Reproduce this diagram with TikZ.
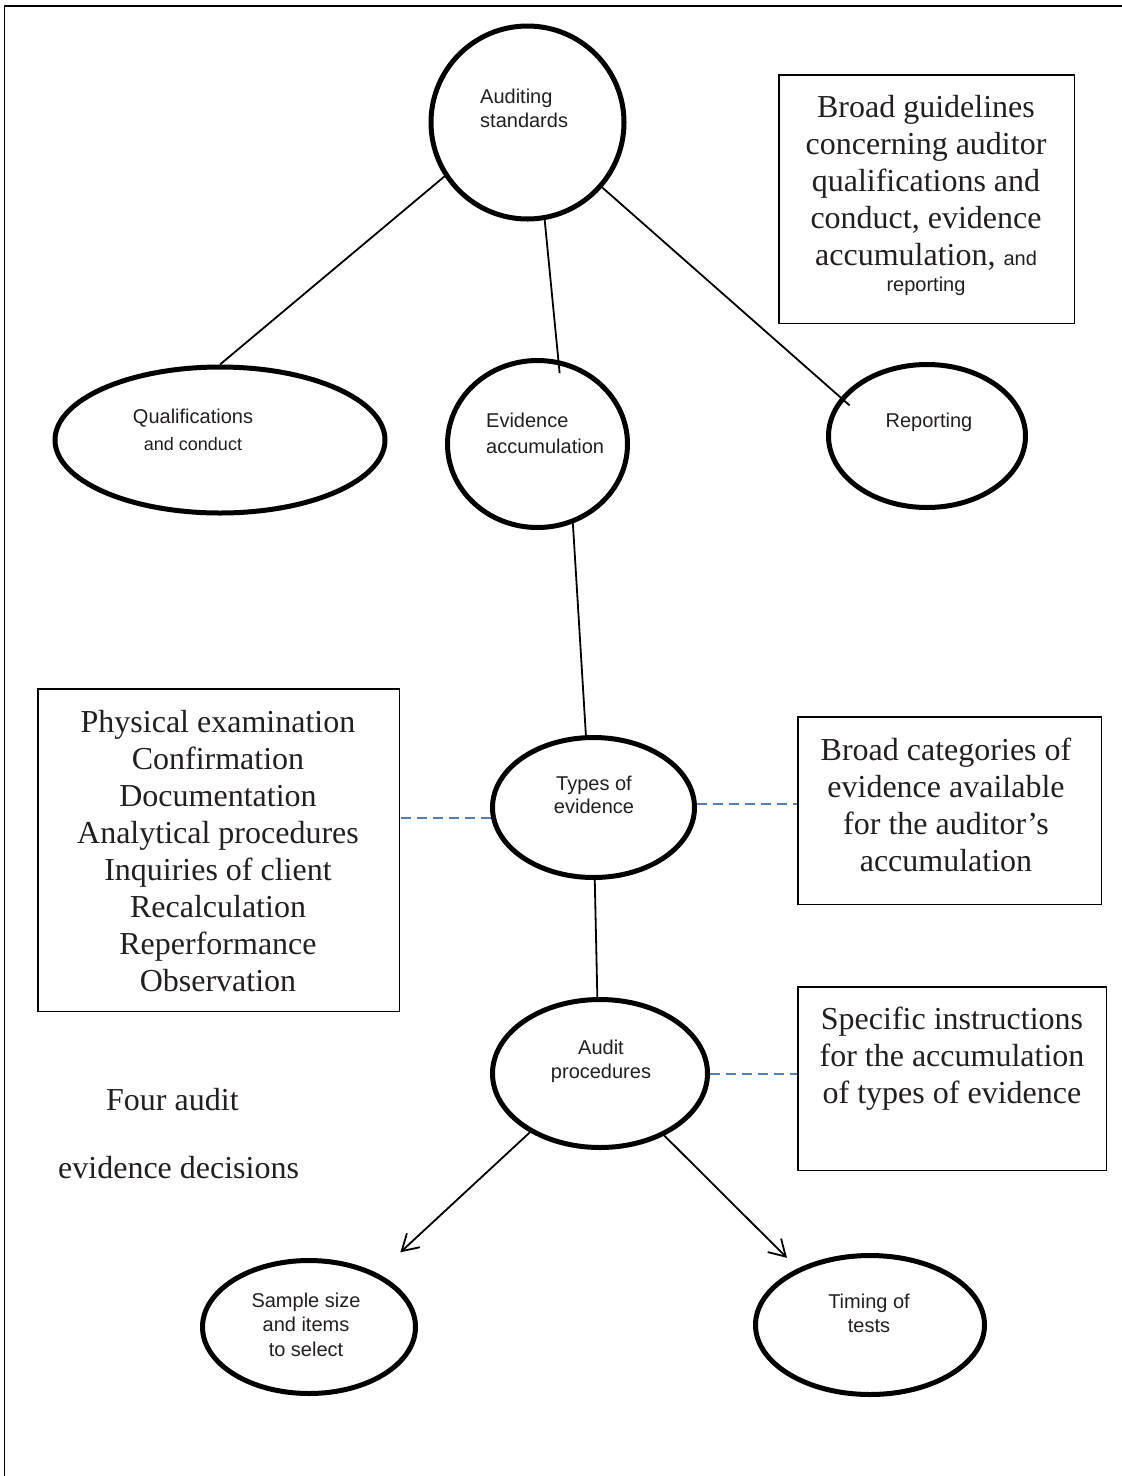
\documentclass[tikz,border=0pt]{standalone}
\usepackage{fontspec}
\setmainfont{Liberation Serif}
\newfontfamily\arialf{Liberation Sans}
\usetikzlibrary{shapes.geometric,arrows.meta,calc}
\definecolor{dashblue}{HTML}{4F81BD}
\definecolor{txtgray}{HTML}{231F20}
\newcommand\serifbig{\fontsize{32}{37}\selectfont}
\newcommand\sanslab{\arialf\fontsize{20}{24.5}\selectfont}
\newcommand\sanssmall{\arialf\fontsize{18}{24.5}\selectfont}
\begin{document}
\begin{tikzpicture}[x=1pt,y=-1pt,
  bub/.style={ellipse, draw, line width=5pt, inner sep=0pt},
  tbox/.style={rectangle, draw, line width=1.5pt, inner sep=0pt},
  conn/.style={line width=1.8pt},
  dsh/.style={draw=dashblue, line width=2pt, dash pattern=on 10pt off 6pt},
  stxt/.style={font=\sanslab, align=center, inner sep=0pt, text=txtgray, anchor=north},
  btxt/.style={font=\serifbig, align=center, inner sep=0pt, text=txtgray, anchor=north},
  arr/.style={conn, -{Straight Barb[length=16pt,width=19pt,line width=1.8pt]}}]
\useasboundingbox (0,0) rectangle (1122,1476);

% frame
\coordinate (ftl) at (4.5,6);
\coordinate (ftr) at (1122,6);
\coordinate (fbl) at (4.5,1476);
\draw[line width=1.5pt] (ftr) -- (ftl) -- (fbl);

% bubbles
\node[circle, draw, line width=5pt, inner sep=0pt, minimum size=193pt] (aud) at (527.5,122.5) {};
\node[bub, minimum width=330pt, minimum height=146pt] (qual) at (220,440) {};
\node[bub, minimum width=180pt, minimum height=167pt] (ev) at (537.5,444) {};
\node[bub, minimum width=197pt, minimum height=143pt] (rep) at (927,436) {};
\node[bub, minimum width=202pt, minimum height=140pt] (typ) at (593.5,807.5) {};
\node[bub, minimum width=215pt, minimum height=148pt] (apr) at (600,1073.5) {};
\node[bub, minimum width=213pt, minimum height=133pt] (samp) at (309,1327) {};
\node[bub, minimum width=229pt, minimum height=139pt] (tim) at (870,1325) {};

% bubble texts
\node[stxt, align=left, anchor=north west] (audt) at (480,88.6) {Auditing\\standards};
\node[stxt] (qualt) at (193,408.6) {Qualifications\\[3pt]{\sanssmall and conduct}};
\node[stxt, align=left, anchor=north west] (evt) at (486,412.6) {Evidence\\[1.5pt]accumulation};
\node[stxt] (rept) at (929,412.6) {Reporting};
\node[stxt] (typt) at (594,775.6) {Types of\\[-1.5pt]evidence};
\node[stxt] (aprt) at (601,1039.6) {Audit\\procedures};
\node[stxt] (sampt) at (306,1292.6) {Sample size\\and items\\to select};
\node[stxt] (timt) at (869,1293.6) {Timing of\\tests};

% boxes
\node[tbox, minimum width=295.5pt, minimum height=248.5pt] (gbox) at (926.5,199) {};
\node[tbox, minimum width=361.5pt, minimum height=322.5pt] (lbox) at (218.5,850) {};
\node[tbox, minimum width=303.5pt, minimum height=187.5pt] (cbox) at (949.5,810.5) {};
\node[tbox, minimum width=308.5pt, minimum height=183.5pt] (sbox) at (952,1078.5) {};

% box texts
\node[btxt] (gtxt) at (926,95) {Broad guidelines\\concerning auditor\\qualifications and\\conduct, evidence\\accumulation, {\sanslab and}\\[-11pt]{\sanslab reporting}};
\node[btxt] (ltxt) at (218,710) {Physical examination\\Confirmation\\Documentation\\Analytical procedures\\Inquiries of client\\Recalculation\\Reperformance\\Observation};
\node[btxt] (ctxt) at (946,738) {Broad categories of\\evidence available\\for the auditor's\\accumulation};
\node[btxt] (stx) at (952,1007) {Specific instructions\\for the accumulation\\of types of evidence};
\node[font=\serifbig, text=txtgray, inner sep=0pt, anchor=base west] (four) at (106,1110) {Four audit};
\node[font=\serifbig, text=txtgray, inner sep=0pt, anchor=base west] (dec) at (58,1178) {evidence decisions};

% connectors
\draw[conn] (aud.213) -- (qual.north);
\draw[conn, shorten >=-13pt] (aud.-80) -- (ev.76);
\draw[conn, shorten >=-12pt] (aud.-41) -- (rep.156);
\draw[conn] (ev.-66) -- (typ.96);
\draw[conn] (typ.-89) -- (apr.92);
\draw[arr, shorten >=31pt] (apr.220) -- (samp.38);
\draw[arr, shorten >=15pt] (apr.-44) -- (tim.142);

% dashed links
\draw[dsh] (typ.186) -- (typ.186 -| lbox.east);
\draw[dsh] (typ.2) -- (typ.2 -| cbox.west);
\draw[dsh] (apr.east) -- (apr.east -| sbox.west);
\end{tikzpicture}
\end{document}
